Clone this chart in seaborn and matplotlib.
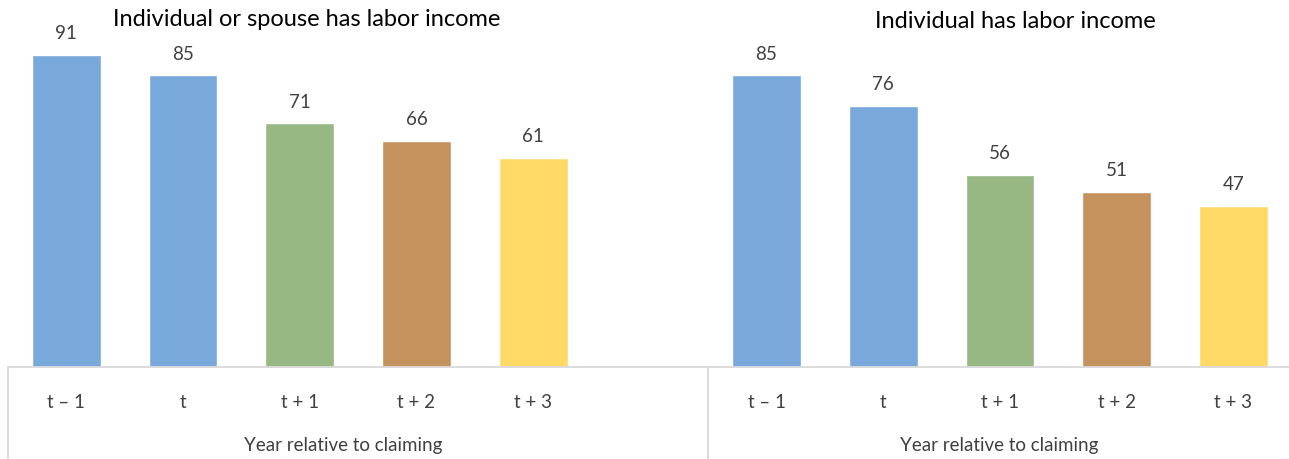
import matplotlib
matplotlib.use("Agg")
import matplotlib.pyplot as plt
import seaborn as sns
import pandas as pd

periods = ["t – 1", "t", "t + 1", "t + 2", "t + 3"]
left_values = [91, 85, 71, 66, 61]
right_values = [85, 76, 56, 51, 47]
left_title = "Individual or spouse has labor income"
right_title = "Individual has labor income"
group_label = "Year relative to claiming"

colors = {"t – 1": "#78A9DA", "t": "#78A9DA", "t + 1": "#97B883",
          "t + 2": "#C5915D", "t + 3": "#FFD966"}

left_keys = [f"L{i}" for i in range(5)]
right_keys = [f"R{i}" for i in range(5)]
order = left_keys + ["gap"] + right_keys

df = pd.DataFrame({
    "key": left_keys + right_keys,
    "value": left_values + right_values,
    "period": periods + periods,
})

sns.set_theme(style="white")
plt.rcParams["font.family"] = ["Lato", "DejaVu Sans"]

W, H = 1289, 460
fig = plt.figure(figsize=(W / 100, H / 100), dpi=100)
ax = fig.add_axes([8 / W, (H - 368) / H, (W - 8) / W, 343 / H])

sns.barplot(data=df, x="key", y="value", hue="period", order=order,
            palette=colors, dodge=False, width=0.59, legend=False, ax=ax,
            saturation=1)

ax.set_ylim(0, 100)
slot = 116.7
ax.set_xlim(-0.5, -0.5 + (W - 8) / slot)
for c in ax.containers:
    ax.bar_label(c, fmt="%d", padding=10, fontsize=13.5, color="#404040")

ax.set_xticks(range(11))
ax.set_xticklabels(periods + [""] + periods, fontsize=13.5, color="#404040")
ax.tick_params(axis="x", length=0, pad=19)
ax.set_yticks([])
ax.set_xlabel("")
ax.set_ylabel("")
for s in ax.spines.values():
    s.set_visible(False)

# axis lines
line_c = "#D9D9D9"
ax.axhline(0, color=line_c, lw=1.3, clip_on=False)
fig.add_artist(plt.Line2D([8 / W, 8 / W], [0, (H - 368) / H], color=line_c, lw=1.3))
fig.add_artist(plt.Line2D([708 / W, 708 / W], [0, (H - 368) / H], color=line_c, lw=1.3))

fig.text(343 / W, (H - 446) / H, group_label, ha="center", va="center",
         fontsize=13.5, color="#404040")
fig.text(999 / W, (H - 446) / H, group_label, ha="center", va="center",
         fontsize=13.5, color="#404040")

fig.text(307 / W, (H - 20) / H, left_title, ha="center", va="center",
         fontsize=17, color="black")
fig.text(1015 / W, (H - 22) / H, right_title, ha="center", va="center",
         fontsize=17, color="black")

fig.savefig("out.png", dpi=100)
